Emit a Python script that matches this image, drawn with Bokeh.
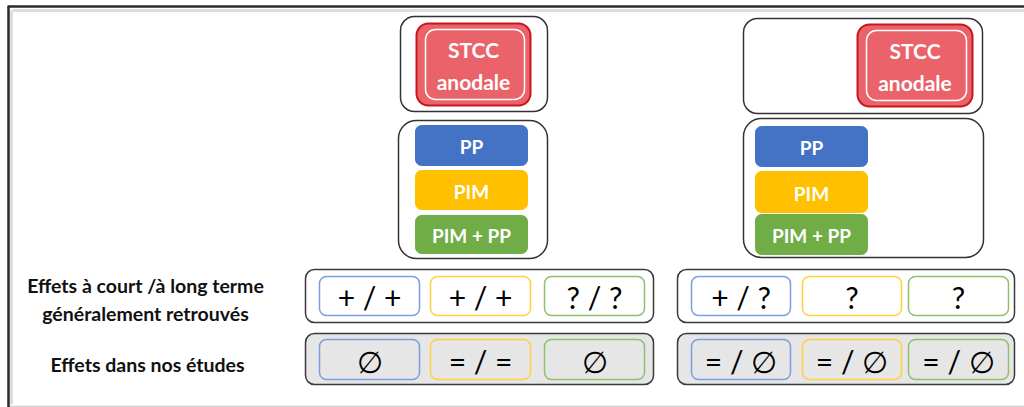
from bokeh.plotting import figure
from bokeh.models import Range1d
from bokeh.core.properties import value
from bokeh.embed import file_html
from bokeh.resources import INLINE

# ---------------- data (texts) ----------------
stimulation_label = ["STCC\nanodale"]
conditions = ["PP", "PIM", "PIM + PP"]
condition_colors = ["#4472C4", "#FFC000", "#70AD47"]
condition_edge_colors = ["#7A9FE0", "#FFD040", "#8CC26C"]
row_labels = ["Effets à court /à long terme\ngénéralement retrouvés", "Effets dans nos études"]
effects_general_left = ["+ / +", "+ / +", "? / ?"]
effects_ours_left = ["∅", "= / =", "∅"]
effects_general_right = ["+ / ?", "?", "?"]
effects_ours_right = ["= / ∅", "= / ∅", "= / ∅"]

# ---------------- layout (pixel coordinates) ----------------
W, H = 1024, 407
X0, Y0 = 0, 0

p = figure(width=W, height=H, output_backend="svg", toolbar_location=None,
           x_range=Range1d(X0, X0 + W), y_range=Range1d(Y0 + H, Y0),
           x_axis_location=None, y_axis_location=None, min_border=0)
p.grid.visible = False
p.outline_line_color = None
p.background_fill_color = "white"
p.border_fill_color = "white"

FONT = value("Lato")

# frame
p.segment(x0=[12], y0=[10], x1=[1024], y1=[10], line_color="#DDDDDD", line_width=3)
p.segment(x0=[11], y0=[10], x1=[11], y1=[404], line_color="#DDDDDD", line_width=3)
p.segment(x0=[7], y0=[406], x1=[1024], y1=[406], line_color="#CFCFCF", line_width=1.5)
p.segment(x0=[7, 8], y0=[6, 6], x1=[1024, 8], y1=[6, 407], line_color="#2A2A2A", line_width=2.5)

def rbox(l, r, t, b, fill="white", line="#333333", lw=1.5, rad=12, alpha=1.0):
    p.quad(left=[l], right=[r], top=[t], bottom=[b], fill_color=fill, fill_alpha=alpha,
           line_color=line, line_width=lw, border_radius=rad)

def txt(x, y, s, size, color="black", style="normal", lh=1.2):
    p.text(x=[x], y=[y], text=[s], text_font=FONT, text_font_size=f"{size}px",
           text_font_style=style, text_color=color, text_align="center",
           text_baseline="middle", text_line_height=lh)

# --- column groups ---
groups = [
    dict(top=(400, 547, 16, 111), stcc=(416, 530, 23, 105),
         cond=(398, 547, 120, 258), cx=(415, 527),
         cy=[(125, 165), (170, 209), (215, 253)]),
    dict(top=(743, 982, 18, 113), stcc=(857, 972, 24, 106),
         cond=(743, 983, 118, 257), cx=(755, 867),
         cy=[(126, 166), (171, 212), (214, 254)]),
]

for g in groups:
    l, r, t, b = g["top"]
    rbox(l, r, t, b, rad=14)
    l, r, t, b = g["stcc"]
    rbox(l, r, t, b, fill="#EA636A", line="#C8161E", lw=2, rad=12)
    rbox(l + 9, r - 6, t + 6, b - 6, fill=None, line="white", lw=1.5, rad=10, alpha=0)
    txt((l + r) / 2, (t + b) / 2 + 1, stimulation_label[0], 21, "white", "bold", 1.25)
    l, r, t, b = g["cond"]
    rbox(l, r, t, b, rad=18)
    cl, cr = g["cx"]
    for name, col, (ct, cb) in zip(conditions, condition_colors, g["cy"]):
        rbox(cl, cr, ct, cb, fill=col, line=col, lw=1, rad=6)
        txt((cl + cr) / 2, (ct + cb) / 2 + 1, name, 19, "white", "bold")

# --- effect rows ---
rows = [
    dict(cont=(305, 653), inner=[(319, 419), (430, 530), (544, 644)],
         texts=[effects_general_left, effects_ours_left]),
    dict(cont=(677, 1014), inner=[(691, 790), (802, 901), (908, 1008)],
         texts=[effects_general_right, effects_ours_right]),
]
row_y = [(269, 322), (333, 384)]
inner_y = [(276, 315), (339, 379)]
row_fill = ["white", "#E6E6E6"]

for rw in rows:
    cl, cr = rw["cont"]
    for k in range(2):
        rt, rb = row_y[k]
        rbox(cl, cr, rt, rb, fill=row_fill[k], line="#3A3A3A", lw=1.5, rad=9)
        it, ib = inner_y[k]
        for (il, ir), edge, s in zip(rw["inner"], condition_edge_colors, rw["texts"][k]):
            rbox(il, ir, it, ib, fill=row_fill[k], line=edge, lw=1.5, rad=7)
            txt((il + ir) / 2, (it + ib) / 2 + 1, s, 30, "black")

# row labels
txt(145, 299, row_labels[0], 19.5, "#111111", "bold", 1.25)
txt(147, 364, row_labels[1], 19.5, "#111111", "bold")

open("out.html", "w").write(file_html(p, INLINE))
